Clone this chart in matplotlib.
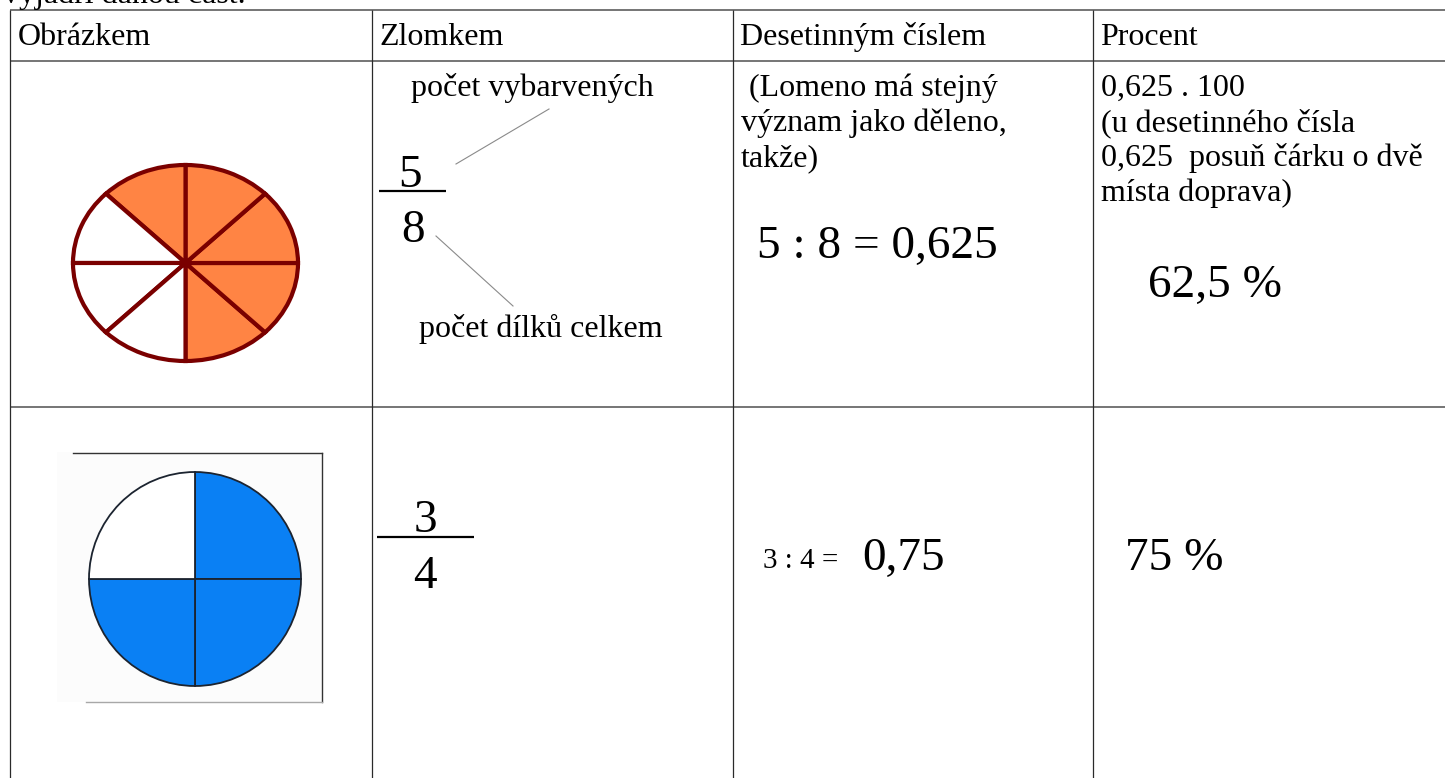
import matplotlib
matplotlib.use("Agg")
import matplotlib.pyplot as plt

W, H = 1445, 778

# ---- data ----
intro_text = "vyjádři danou část."
header_labels = ["Obrázkem", "Zlomkem", "Desetinným číslem", "Procent"]
pie_parts = [8, 4]
pie_shaded = [5, 3]
numerators = ["5", "3"]
denominators = ["8", "4"]
fraction_notes = ["počet vybarvených", "počet dílků celkem"]
decimal_note_lines = [" (Lomeno má stejný", "význam jako děleno,", "takže)"]
decimal_results = ["5 : 8 = 0,625", "0,75"]
decimal_prefix_row2 = "3 : 4 ="
percent_note_lines = ["0,625 . 100", "(u desetinného čísla",
                      "0,625  posuň čárku o dvě", "místa doprava)"]
percent_results = ["62,5 %", "75 %"]

SERIF = "Liberation Serif"
TXT = 23
BIG = 34
LINE = 35

fig = plt.figure(figsize=(W / 100, H / 100), dpi=100)
fig.patch.set_facecolor("white")
ax = fig.add_axes([0, 0, 1, 1])
ax.set_xlim(0, W)
ax.set_ylim(H, 0)
ax.axis("off")

# ---- table grid ----
col_x = [9.5, 371.5, 732.5, 1092.5]
row_y = [10, 61, 406.5]
for y in row_y:
    ax.plot([col_x[0], W], [y, y], color="#6a6a6a", lw=1.3, solid_capstyle="butt")
for x in col_x:
    ax.plot([x, x], [row_y[0], H], color="#2a2a2a", lw=0.9, solid_capstyle="butt")

# ---- intro text (cut by the top edge) ----
ax.text(3, 3, intro_text, fontsize=TXT, family=SERIF, va="baseline", ha="left")

# ---- headers ----
for x, lab in zip(col_x, header_labels):
    ax.text(x + 8, 45, lab, fontsize=TXT, family=SERIF, va="baseline", ha="left")


def px_axes(x0, y0, x1, y1):
    return fig.add_axes([x0 / W, 1 - y1 / H, (x1 - x0) / W, (y1 - y0) / H])


# ---- pie 1 (ellipse, orange) ----
pa = px_axes(73, 165, 298, 361)
n1 = pie_parts[0]
cols1 = ["#FF8444"] * pie_shaded[0] + ["white"] * (n1 - pie_shaded[0])
pa.pie([1] * n1, colors=cols1, startangle=-90, counterclock=True,
       wedgeprops=dict(edgecolor="#7A0000", linewidth=3.0, clip_on=False))
pa.set_aspect("auto")
pa.set_xlim(-1, 1)
pa.set_ylim(-1, 1)
pa.axis("off")

# ---- pie 2 picture frame ----
ax.add_patch(plt.Rectangle((57, 452), 265, 250, facecolor="#fcfcfc", edgecolor="none"))
ax.plot([73, 322], [452.5, 452.5], color="#333333", lw=1.0)
ax.plot([322, 322], [452.5, 702], color="#333333", lw=1.0)
ax.plot([86, 322], [702, 702], color="#a8a8a8", lw=1.0)

pb = px_axes(89, 472, 301, 686)
n2 = pie_parts[1]
cols2 = ["#0A80F4"] * pie_shaded[1] + ["white"] * (n2 - pie_shaded[1])
pb.pie([1] * n2, colors=cols2, startangle=90, counterclock=False,
       wedgeprops=dict(edgecolor="#1c2430", linewidth=1.3, clip_on=False))
pb.set_aspect("auto")
pb.set_xlim(-1, 1)
pb.set_ylim(-1, 1)
pb.axis("off")

# ---- fractions ----
ax.text(410, 187, numerators[0], fontsize=BIG, family=SERIF, ha="center", va="baseline")
ax.text(413, 242, denominators[0], fontsize=BIG, family=SERIF, ha="center", va="baseline")
ax.plot([379, 446], [190.5, 190.5], color="black", lw=1.6, solid_capstyle="butt")

ax.text(425, 532, numerators[1], fontsize=BIG, family=SERIF, ha="center", va="baseline")
ax.text(425, 588, denominators[1], fontsize=BIG, family=SERIF, ha="center", va="baseline")
ax.plot([377, 474], [537, 537], color="black", lw=1.6, solid_capstyle="butt")

# fraction notes + leader lines
ax.text(411, 96, fraction_notes[0], fontsize=TXT, family=SERIF, ha="left", va="baseline")
ax.text(419, 337, fraction_notes[1], fontsize=TXT, family=SERIF, ha="left", va="baseline")
ax.plot([549, 456], [109, 164], color="#8a8a8a", lw=0.8)
ax.plot([436, 513], [236, 306], color="#8a8a8a", lw=0.8)

# ---- decimal column ----
for i, line in enumerate(decimal_note_lines):
    ax.text(741, 96 + LINE * i, line, fontsize=TXT, family=SERIF, ha="left", va="baseline")
ax.text(757, 258, decimal_results[0], fontsize=BIG, family=SERIF, ha="left", va="baseline")
ax.text(763, 568, decimal_prefix_row2, fontsize=21, family=SERIF, ha="left", va="baseline")
ax.text(862, 570, decimal_results[1], fontsize=BIG, family=SERIF, ha="left", va="baseline")

# ---- percent column ----
for i, line in enumerate(percent_note_lines):
    ax.text(1101, 96 + LINE * i, line, fontsize=TXT, family=SERIF, ha="left", va="baseline")
ax.text(1148, 297, percent_results[0], fontsize=BIG, family=SERIF, ha="left", va="baseline")
ax.text(1125, 570, percent_results[1], fontsize=BIG, family=SERIF, ha="left", va="baseline")

fig.savefig("out.png", dpi=100, facecolor="white")
